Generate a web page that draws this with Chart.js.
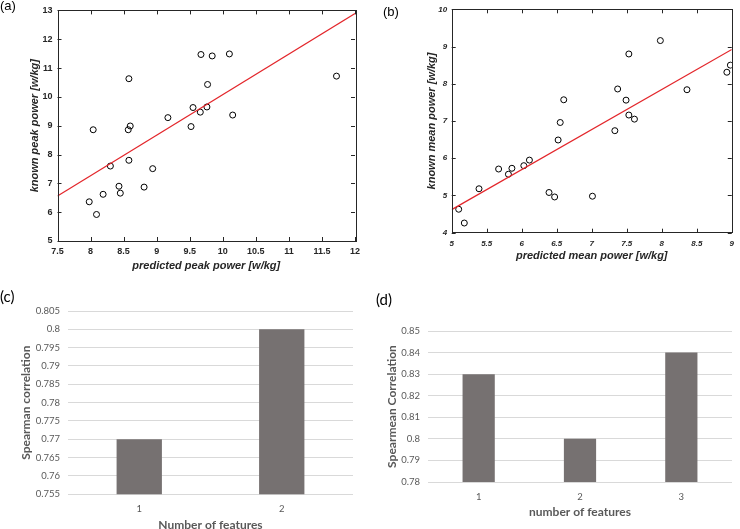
<!DOCTYPE html>
<html lang="en">
<head>
<meta charset="UTF-8">
<title>Peak and mean power prediction</title>
<script src="https://cdn.jsdelivr.net/npm/chart.js"></script>
<style>
    html, body { margin: 0; padding: 0; background: #ffffff; overflow: hidden; }
    body { width: 740px; height: 529px; position: relative; }
    .panel { position: absolute; }
    .tag { position: absolute; line-height: 1; font-family: Arial, sans-serif; font-size: 13px; color: #000; }
    .tag.office { font-family: Lato, sans-serif; font-size: 15px; color: #000; }
</style>
</head>
<body>

<div class="panel" style="left:0;top:0;width:370px;height:274px"><canvas id="chartA"></canvas></div>
<div class="panel" style="left:370px;top:0;width:370px;height:274px"><canvas id="chartB"></canvas></div>
<div class="panel" style="left:0;top:270px;width:370px;height:264px"><canvas id="chartC"></canvas></div>
<div class="panel" style="left:370px;top:270px;width:370px;height:264px"><canvas id="chartD"></canvas></div>

<div class="tag" style="left:0;top:-1px">(a)</div>
<div class="tag" style="left:383px;top:5px">(b)</div>
<div class="tag office" style="left:0;top:289px">(c)</div>
<div class="tag office" style="left:376px;top:292px">(d)</div>

<script>
    // (a) peak power: predicted vs known [w/kg]
    const peakPredicted = [7.98, 8.09, 8.04, 8.19, 8.30, 8.43, 8.45, 8.58, 8.57, 8.60, 8.58, 8.81,
                           8.94, 9.17, 9.52, 9.55, 9.66, 9.76, 9.77, 9.67, 9.84, 10.10, 10.15, 11.72];
    const peakKnown     = [6.36, 5.92, 8.86, 6.62, 7.60, 6.90, 6.66, 10.63, 8.86, 8.99, 7.80, 6.87,
                           7.51, 9.28, 8.97, 9.63, 9.47, 9.65, 10.43, 11.47, 11.42, 11.49, 9.37, 10.72];
    const peakFitX = [7.5, 12];
    const peakFitY = [6.56, 12.89];
    const peakXTicks = [7.5, 8, 8.5, 9, 9.5, 10, 10.5, 11, 11.5, 12];
    const peakYTicks = [5, 6, 7, 8, 9, 10, 11, 12, 13];

    // (b) mean power: predicted vs known [w/kg]
    const meanPredicted = [5.10, 5.18, 5.39, 5.67, 5.81, 5.86, 6.03, 6.11, 6.39, 6.47, 6.52, 6.55,
                           6.60, 7.01, 7.33, 7.37, 7.49, 7.53, 7.61, 7.53, 7.98, 8.36, 8.93, 8.98];
    const meanKnown     = [4.63, 4.26, 5.18, 5.71, 5.57, 5.73, 5.80, 5.95, 5.08, 4.96, 6.49, 6.96,
                           7.57, 4.98, 6.74, 7.86, 7.56, 7.16, 7.05, 8.80, 9.16, 7.84, 8.31, 8.50];
    const meanFitX = [5, 9];
    const meanFitY = [4.62, 8.92];
    const meanXTicks = [5, 5.5, 6, 6.5, 7, 7.5, 8, 8.5, 9];
    const meanYTicks = [4, 5, 6, 7, 8, 9, 10];

    // (c) and (d) Spearman correlation by number of features
    const featuresC = ['1', '2'];
    const spearmanC = [0.77, 0.80];
    const spearmanCTicks = [0.755, 0.76, 0.765, 0.77, 0.775, 0.78, 0.785, 0.79, 0.795, 0.8, 0.805];
    const featuresD = ['1', '2', '3'];
    const spearmanD = [0.83, 0.80, 0.84];
    const spearmanDTicks = [0.78, 0.79, 0.8, 0.81, 0.82, 0.83, 0.84, 0.85];

    const fmt = v => String(Number(v.toFixed(3)));
    const setTicks = list => scale => { scale.ticks = list.map(v => ({ value: v })); };

    // MATLAB style box with inward ticks on all four sides
    const matlabBox = {
        id: 'matlabBox',
        afterDraw(chart) {
            const { ctx, chartArea: a, scales: { x, y } } = chart;
            ctx.save();
            ctx.strokeStyle = '#262626';
            ctx.lineWidth = 1;
            ctx.beginPath();
            x.ticks.forEach(t => {
                const px = Math.round(x.getPixelForValue(t.value)) + 0.5;
                ctx.moveTo(px, a.bottom); ctx.lineTo(px, a.bottom - 4);
                ctx.moveTo(px, a.top); ctx.lineTo(px, a.top + 4);
            });
            y.ticks.forEach(t => {
                const py = Math.round(y.getPixelForValue(t.value)) + 0.5;
                ctx.moveTo(a.left, py); ctx.lineTo(a.left + 4, py);
                ctx.moveTo(a.right, py); ctx.lineTo(a.right - 4, py);
            });
            ctx.stroke();
            ctx.strokeRect(Math.round(a.left) + 0.5, Math.round(a.top) + 0.5,
                           Math.round(a.width), Math.round(a.height));
            ctx.restore();
        }
    };

    function scatterPanel(id, s) {
        new Chart(document.getElementById(id), {
            type: 'scatter',
            data: {
                datasets: [
                    {
                        data: s.fitX.map((v, i) => ({ x: v, y: s.fitY[i] })),
                        showLine: true,
                        borderColor: '#e3262b',
                        borderWidth: 1.2,
                        pointRadius: 0
                    },
                    {
                        data: s.px.map((v, i) => ({ x: v, y: s.py[i] })),
                        pointStyle: 'circle',
                        pointRadius: 3,
                        borderColor: '#000000',
                        backgroundColor: 'rgba(0,0,0,0)',
                        borderWidth: 1
                    }
                ]
            },
            options: {
                responsive: true,
                maintainAspectRatio: false,
                animation: false,
                layout: { padding: s.padding },
                plugins: { legend: { display: false }, tooltip: { enabled: false } },
                scales: {
                    x: {
                        type: 'linear',
                        min: s.xTicks[0],
                        max: s.xTicks[s.xTicks.length - 1],
                        afterBuildTicks: setTicks(s.xTicks),
                        grid: { display: false, drawTicks: false },
                        border: { display: false },
                        ticks: { callback: fmt, color: '#262626', font: s.tickFont, padding: s.xPad, maxRotation: 0, autoSkip: false },
                        title: { display: true, text: s.xTitle, color: '#262626', font: s.titleFont, padding: { top: 0, bottom: s.xTitlePad } },
                        afterFit: sc => { sc.height = s.xHeight; }
                    },
                    y: {
                        type: 'linear',
                        min: s.yTicks[0],
                        max: s.yTicks[s.yTicks.length - 1],
                        afterBuildTicks: setTicks(s.yTicks),
                        grid: { display: false, drawTicks: false },
                        border: { display: false },
                        ticks: { callback: fmt, color: '#262626', font: s.tickFont, padding: s.yPad, autoSkip: false },
                        title: { display: true, text: s.yTitle, color: '#262626', font: s.titleFont, padding: { top: s.yTitlePad, bottom: 0 } },
                        afterFit: sc => { sc.width = s.yWidth; }
                    }
                }
            },
            plugins: [matlabBox]
        });
    }

    scatterPanel('chartA', {
        px: peakPredicted, py: peakKnown, fitX: peakFitX, fitY: peakFitY,
        xTicks: peakXTicks, yTicks: peakYTicks,
        xTitle: 'predicted peak power [w/kg]', yTitle: 'known peak power [w/kg]',
        tickFont: { family: 'Arial', size: 9, weight: 'bold' },
        titleFont: { family: 'Arial', size: 11, weight: 'bold', style: 'italic' },
        padding: { top: 6, right: 15, left: 0, bottom: 0 },
        xHeight: 33, yWidth: 57.5, xPad: 5, yPad: 5, xTitlePad: 1.5, yTitlePad: 28
    });

    scatterPanel('chartB', {
        px: meanPredicted, py: meanKnown, fitX: meanFitX, fitY: meanFitY,
        xTicks: meanXTicks, yTicks: meanYTicks,
        xTitle: 'predicted mean power [w/kg]', yTitle: 'known mean power [w/kg]',
        tickFont: { family: 'Arial', size: 8, weight: 'bold', style: 'italic' },
        titleFont: { family: 'Arial', size: 11, weight: 'bold', style: 'italic' },
        padding: { top: 7, right: 2.5, left: 0, bottom: 0 },
        xHeight: 41.3, yWidth: 81.7, xPad: 6, yPad: 4.5, xTitlePad: 11.4, yTitlePad: 55
    });

    function barPanel(id, b) {
        const office = { family: 'Lato', size: 9.5 };
        new Chart(document.getElementById(id), {
            type: 'bar',
            data: {
                labels: b.labels,
                datasets: [{
                    data: b.values,
                    backgroundColor: '#767171',
                    categoryPercentage: 1,
                    barPercentage: 0.318
                }]
            },
            options: {
                responsive: true,
                maintainAspectRatio: false,
                animation: false,
                layout: { padding: b.padding },
                plugins: { legend: { display: false }, tooltip: { enabled: false } },
                scales: {
                    x: {
                        grid: { display: false, drawTicks: false },
                        border: { display: false },
                        ticks: { color: '#595959', font: office, padding: b.xPad },
                        title: { display: true, text: b.xTitle, color: '#595959',
                                 font: { family: 'Lato', size: 12, weight: 'bold' }, padding: { top: 0, bottom: b.xTitlePad } },
                        afterFit: sc => { sc.height = b.xHeight; }
                    },
                    y: {
                        min: b.ticks[0],
                        max: b.ticks[b.ticks.length - 1],
                        afterBuildTicks: setTicks(b.ticks),
                        grid: { color: '#d9d9d9', drawTicks: false },
                        border: { display: false },
                        ticks: { callback: fmt, color: '#595959', font: office, padding: 8, autoSkip: false },
                        title: { display: true, text: b.yTitle, color: '#595959',
                                 font: { family: 'Lato', size: 12, weight: 'bold' }, padding: { top: b.yTitlePad, bottom: 0 } },
                        afterFit: sc => { sc.width = b.yWidth; }
                    }
                }
            }
        });
    }

    barPanel('chartC', {
        labels: featuresC, values: spearmanC, ticks: spearmanCTicks,
        xTitle: 'Number of features', yTitle: 'Spearman correlation',
        padding: { top: 41, right: 17, left: 0, bottom: 0 },
        xHeight: 39.7, yWidth: 68, xPad: 9, xTitlePad: 1.5, yTitlePad: 19
    });

    barPanel('chartD', {
        labels: featuresD, values: spearmanD, ticks: spearmanDTicks,
        xTitle: 'number of features', yTitle: 'Spearmean Correlation',
        padding: { top: 61, right: 8, left: 0, bottom: 0 },
        xHeight: 52, yWidth: 58, xPad: 9, xTitlePad: 14.5, yTitlePad: 15
    });
</script>

</body>
</html>
